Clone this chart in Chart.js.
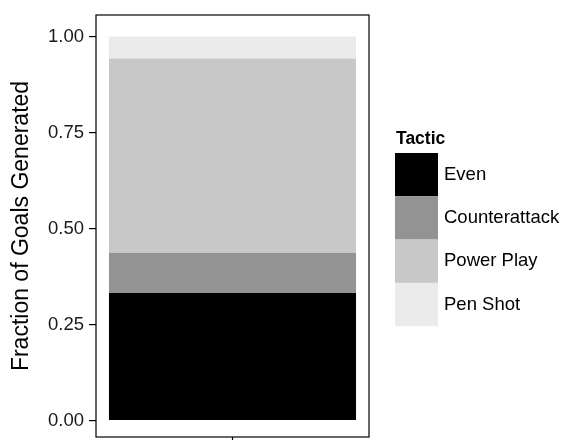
<!DOCTYPE html>
<html>
<head>
<meta charset="utf-8">
<script src="https://cdn.jsdelivr.net/npm/chart.js@4"></script>
<style>
  html, body { margin: 0; padding: 0; background: #fff; }
  #wrap { width: 563px; height: 440px; position: relative; }
</style>
</head>
<body>
<div id="wrap"><canvas id="grafico"></canvas></div>
<script>
// dados do grafico
const categorias = [''];
const taticas = ['Even', 'Counterattack', 'Power Play', 'Pen Shot'];
const fracoes = [0.332, 0.105, 0.506, 0.057];
const cores = ['#000000', '#939393', '#c8c8c8', '#ebebeb'];
const ticksY = [0, 0.25, 0.5, 0.75, 1];

const fonte = '"Liberation Sans", Arial, sans-serif';

// moldura do painel + legenda
const painelELegenda = {
    id: 'painelELegenda',
    afterDraw(chart) {
        const ctx = chart.ctx;
        const a = chart.chartArea;
        ctx.save();
        ctx.strokeStyle = '#000';
        ctx.lineWidth = 1.2;
        ctx.strokeRect(a.left, a.top, a.right - a.left, a.bottom - a.top);
        // marca do eixo x
        const xm = chart.scales.x.getPixelForValue(0);
        ctx.beginPath();
        ctx.moveTo(xm, a.bottom);
        ctx.lineTo(xm, a.bottom + 6);
        ctx.stroke();

        // legenda
        const lx = 395, ly = 153, lw = 43, lh = 43.3;
        ctx.fillStyle = '#000';
        ctx.font = 'bold 17.5px ' + fonte;
        ctx.textBaseline = 'alphabetic';
        ctx.fillText('Tactic', lx + 1, 144);
        ctx.font = '18.5px ' + fonte;
        ctx.textBaseline = 'middle';
        taticas.forEach((t, i) => {
            const y = ly + i * lh;
            ctx.fillStyle = cores[i];
            ctx.fillRect(lx, y, lw, lh);
            ctx.fillStyle = '#000';
            ctx.fillText(t, lx + lw + 6, y + lh / 2);
        });
        ctx.restore();
    }
};

const ctxGrafico = document.getElementById('grafico').getContext('2d');
new Chart(ctxGrafico, {
    type: 'bar',
    data: {
        labels: categorias,
        datasets: taticas.map((t, i) => ({
            label: t,
            data: [fracoes[i]],
            backgroundColor: cores[i],
            borderWidth: 0,
            barPercentage: 0.905,
            categoryPercentage: 1
        }))
    },
    options: {
        responsive: true,
        maintainAspectRatio: false,
        animation: false,
        layout: { padding: { left: 0, right: 194, top: 15, bottom: 3 } },
        plugins: {
            legend: { display: false },
            tooltip: { enabled: false }
        },
        scales: {
            x: {
                stacked: true,
                display: false
            },
            y: {
                stacked: true,
                min: -0.043,
                max: 1.056,
                afterBuildTicks(axis) {
                    axis.ticks = ticksY.map(v => ({ value: v }));
                },
                afterFit(axis) {
                    axis.width = 96;
                    axis.paddingTop = 0;
                    axis.paddingBottom = 0;
                },
                border: { display: false },
                grid: {
                    drawOnChartArea: false,
                    drawTicks: true,
                    tickLength: 7,
                    color: '#000',
                    lineWidth: 1.2
                },
                ticks: {
                    padding: 5,
                    color: '#1a1a1a',
                    font: { family: fonte, size: 18.5 },
                    callback: v => Number(v).toFixed(2)
                },
                title: {
                    display: true,
                    text: 'Fraction of Goals Generated',
                    color: '#000',
                    font: { family: fonte, size: 23 },
                    padding: { top: 8, bottom: 0 }
                }
            }
        }
    },
    plugins: [painelELegenda]
});
</script>
</body>
</html>
